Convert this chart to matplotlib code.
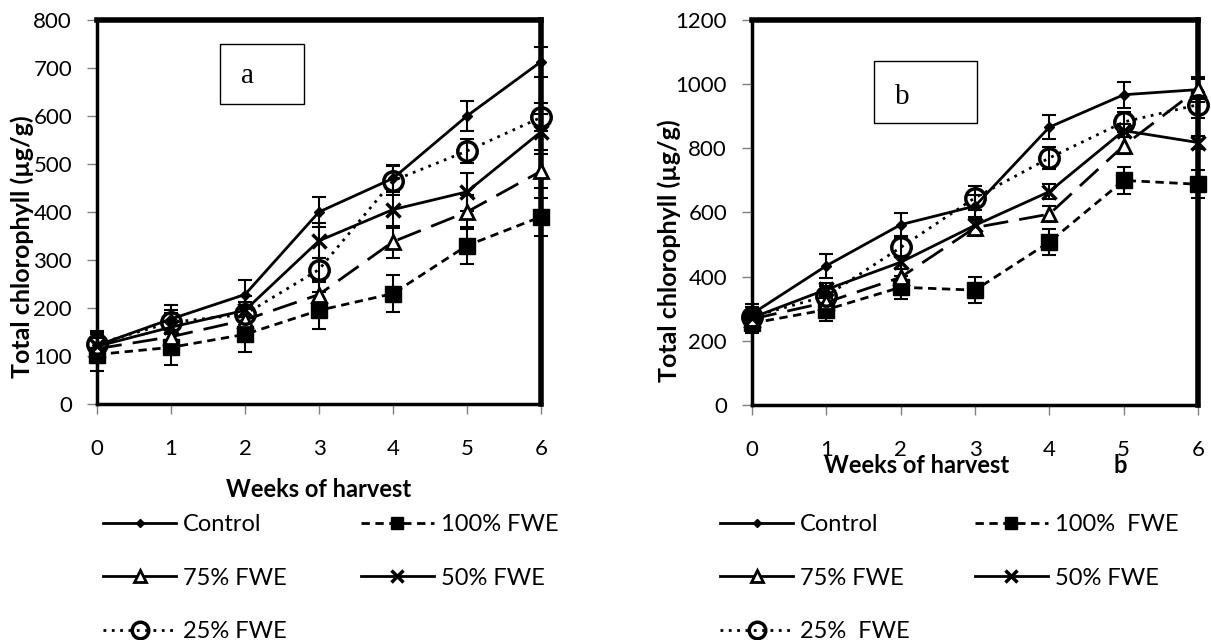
import numpy as np
import matplotlib.pyplot as plt
from matplotlib.patches import Rectangle
from matplotlib.lines import Line2D

plt.rcParams['font.family'] = ['Lato', 'DejaVu Sans']

weeks = [0, 1, 2, 3, 4, 5, 6]

# panel a (µg/g)
a_control = [122, 177, 228, 400, 470, 600, 713]
a_control_err = [30, 30, 30, 31, 28, 31, 31]
a_fwe100 = [103, 118, 145, 195, 230, 330, 390]
a_fwe100_err = [35, 36, 36, 38, 39, 38, 40]
a_fwe75 = [115, 140, 175, 228, 338, 400, 485]
a_fwe75_err = [30, 30, 30, 30, 33, 36, 35]
a_fwe50 = [120, 160, 195, 340, 405, 442, 567]
a_fwe50_err = [30, 30, 30, 36, 38, 39, 38]
a_fwe25 = [125, 170, 187, 280, 465, 527, 597]
a_fwe25_err = [25, 25, 25, 25, 30, 26, 29]

# panel b (µg/g)
b_control = [284, 434, 562, 620, 866, 967, 983]
b_control_err = [30, 37, 36, 35, 37, 40, 40]
b_fwe100 = [255, 297, 367, 358, 508, 700, 688]
b_fwe100_err = [30, 36, 36, 41, 41, 41, 43]
b_fwe75 = [268, 320, 398, 553, 595, 808, 985]
b_fwe75_err = [25, 25, 25, 25, 26, 26, 30]
b_fwe50 = [272, 360, 445, 560, 665, 855, 818]
b_fwe50_err = [20, 20, 20, 20, 23, 20, 20]
b_fwe25 = [275, 340, 491, 646, 770, 882, 936]
b_fwe25_err = [30, 30, 31, 37, 34, 30, 40]

styles = [
    dict(ls='-', marker='D', ms=5, mfc='black', mew=1),
    dict(ls=(0, (3, 2)), marker='s', ms=11, mfc='black', mew=1),
    dict(ls=(0, (9, 4)), marker='^', ms=10, mfc='white', mew=2),
    dict(ls='-', marker='x', ms=10, mfc='black', mew=2.5),
    dict(ls=(0, (1, 2)), marker='o', ms=14, mfc='none', mew=2.5),
]
# legend keys: the long dash shows as a plain line in the short key
leg_ls = ['-', (0, (3, 2)), '-', '-', (0, (1, 2))]


def draw_panel(ax, series, errs, labels, ymax, ystep):
    handles = []
    for y, e, lab, st, lls in zip(series, errs, labels, styles, leg_ls):
        ax.errorbar(weeks, y, yerr=e, fmt='none', ecolor='black', elinewidth=1.5,
                    capsize=5, capthick=1.5, clip_on=False, zorder=2)
        ax.plot(weeks, y, color='black', lw=2, mec='black', clip_on=False, zorder=3, **st)
        kw = dict(st)
        kw['ls'] = lls
        kw['ms'] = st['ms'] * 0.85
        handles.append(Line2D([], [], color='black', lw=2, mec='black', label=lab, **kw))
    ax.set_xlim(0, 6)
    ax.set_ylim(0, ymax)
    ax.set_xticks(weeks)
    ax.set_yticks(np.arange(0, ymax + 1, ystep))
    ax.tick_params(axis='x', length=7, width=1, color='gray', pad=18, labelsize=16)
    ax.tick_params(axis='y', length=7, width=1, color='gray', pad=11, labelsize=16)
    for s in ['top', 'right']:
        ax.spines[s].set_linewidth(4)
    for s in ['left', 'bottom']:
        ax.spines[s].set_linewidth(2.5)
    ax.set_ylabel('Total chlorophyll (µg/g)', fontsize=18, fontweight='bold', va='center')
    return handles


fig = plt.figure(figsize=(12.11, 6.4), dpi=100)
ax1 = fig.add_axes([0.0801, 0.3688, 0.3666, 0.6])
ax2 = fig.add_axes([0.621, 0.3672, 0.3683, 0.6016])

labels_a = ['Control', '100% FWE', '75% FWE', '50% FWE', '25% FWE']
labels_b = ['Control', '100%  FWE', '75% FWE', '50% FWE', '25%  FWE']

h1 = draw_panel(ax1, [a_control, a_fwe100, a_fwe75, a_fwe50, a_fwe25],
                [a_control_err, a_fwe100_err, a_fwe75_err, a_fwe50_err, a_fwe25_err],
                labels_a, 800, 100)
h2 = draw_panel(ax2, [b_control, b_fwe100, b_fwe75, b_fwe50, b_fwe25],
                [b_control_err, b_fwe100_err, b_fwe75_err, b_fwe50_err, b_fwe25_err],
                labels_b, 1200, 200)

ax1.yaxis.set_label_coords(-0.168, 0.41)
ax2.yaxis.set_label_coords(-0.185, 0.40)

ax1.text(0.5, -0.224, 'Weeks of harvest', transform=ax1.transAxes, ha='center', va='center',
         fontsize=17, fontweight='bold')
ax2.text(0.368, -0.156, 'Weeks of harvest', transform=ax2.transAxes, ha='center', va='center',
         fontsize=17, fontweight='bold')
ax2.text(0.825, -0.156, 'b', transform=ax2.transAxes, ha='center', va='center',
         fontsize=17, fontweight='bold')

# boxed panel letters
ax1.add_patch(Rectangle((0.277, 0.781), 0.189, 0.157, transform=ax1.transAxes,
                        fill=False, lw=1, ec='black', zorder=5))
ax1.text(0.34, 0.855, 'a', transform=ax1.transAxes, ha='center', va='center',
         fontsize=21, family='Liberation Serif')
ax2.add_patch(Rectangle((0.274, 0.732), 0.230, 0.161, transform=ax2.transAxes,
                        fill=False, lw=1, ec='black', zorder=5))
ax2.text(0.337, 0.80, 'b', transform=ax2.transAxes, ha='center', va='center',
         fontsize=21, family='Liberation Serif')

leg_kw = dict(loc='upper left', frameon=False, fontsize=17, handlelength=3.1,
              handletextpad=0.3, labelspacing=1.38, borderpad=0, borderaxespad=0,
              bbox_transform=fig.transFigure)
for h, xs in [(h1, (0.085, 0.298)), (h2, (0.5946, 0.805))]:
    fig.legend([h[0], h[2], h[4]], [x.get_label() for x in (h[0], h[2], h[4])],
               bbox_to_anchor=(xs[0], 0.197), **leg_kw)
    fig.legend([h[1], h[3]], [x.get_label() for x in (h[1], h[3])],
               bbox_to_anchor=(xs[1], 0.197), **leg_kw)

fig.savefig('out.png', dpi=100)
